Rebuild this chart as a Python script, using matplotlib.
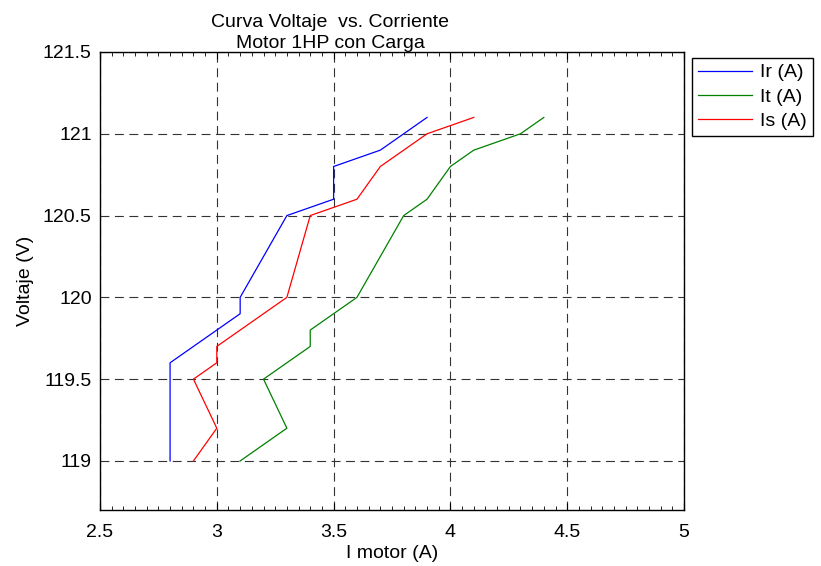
import matplotlib
matplotlib.use("Agg")
import matplotlib.pyplot as plt
from matplotlib.ticker import MultipleLocator

# ── data ──────────────────────────────────────────────────────────────────────
voltaje = [119.0, 119.2, 119.5, 119.6, 119.7, 119.8, 119.9,
           120.0, 120.5, 120.6, 120.8, 120.9, 121.0, 121.1]
ir = [2.8, 2.8, 2.8, 2.8, 2.9, 3.0, 3.1, 3.1, 3.3, 3.5, 3.5, 3.7, 3.8, 3.9]
it = [3.1, 3.3, 3.2, 3.3, 3.4, 3.4, 3.5, 3.6, 3.8, 3.9, 4.0, 4.1, 4.3, 4.4]
is_ = [2.9, 3.0, 2.9, 3.0, 3.0, 3.1, 3.2, 3.3, 3.4, 3.6, 3.7, 3.8, 3.9, 4.1]

x_ticks = [2.5, 3, 3.5, 4, 4.5, 5]
x_labels = ["2.5", "3", "3.5", "4", "4.5", "5"]
y_ticks = [119, 119.5, 120, 120.5, 121, 121.5]
y_labels = ["119", "119.5", "120", "120.5", "121", "121.5"]

plt.rcParams["font.family"] = ["Liberation Sans", "DejaVu Sans"]

fig = plt.figure(figsize=(8.21, 5.66), dpi=100)
ax = fig.add_axes([100 / 821, 1 - 510 / 566, 584 / 821, 458 / 566])

ax.plot(ir, voltaje, color="#0000ff", lw=0.9, label="Ir (A)")
ax.plot(it, voltaje, color="#008000", lw=0.9, label="It (A)")
ax.plot(is_, voltaje, color="#ff0000", lw=0.9, label="Is (A)")

ax.set_xlim(2.5, 5)
ax.set_ylim(118.7, 121.5)
ax.set_xticks(x_ticks)
ax.set_xticklabels(x_labels)
ax.set_yticks(y_ticks)
ax.set_yticklabels(y_labels)
ax.xaxis.set_minor_locator(MultipleLocator(0.05))

ax.tick_params(which="both", direction="in", top=True, right=True, labelsize=14)
ax.tick_params(which="major", length=5, width=0.8, pad=10)
ax.tick_params(which="minor", length=3, width=0.6)
ax.tick_params(axis="y", which="major", length=0, pad=6)

ax.grid(True, which="major", color="0.2", linestyle=(0, (8, 5)), linewidth=0.8)
for s in ax.spines.values():
    s.set_linewidth(1.0)

ax.set_xlabel("I motor (A)", fontsize=14, labelpad=3)
ax.set_ylabel("Voltaje (V)", fontsize=14, labelpad=6)
ax.set_title("Curva Voltaje  vs. Corriente\nMotor 1HP con Carga", fontsize=14,
             x=0.394, linespacing=1.3, pad=3)

leg = ax.legend(loc="upper left", bbox_to_anchor=(1.014, 0.987), borderaxespad=0,
                fontsize=14, fancybox=False, framealpha=1, edgecolor="black",
                handlelength=2.8, handletextpad=0.4, labelspacing=0.35,
                borderpad=0.3)
leg.get_frame().set_linewidth(1.0)

fig.savefig("out.png", dpi=100)
